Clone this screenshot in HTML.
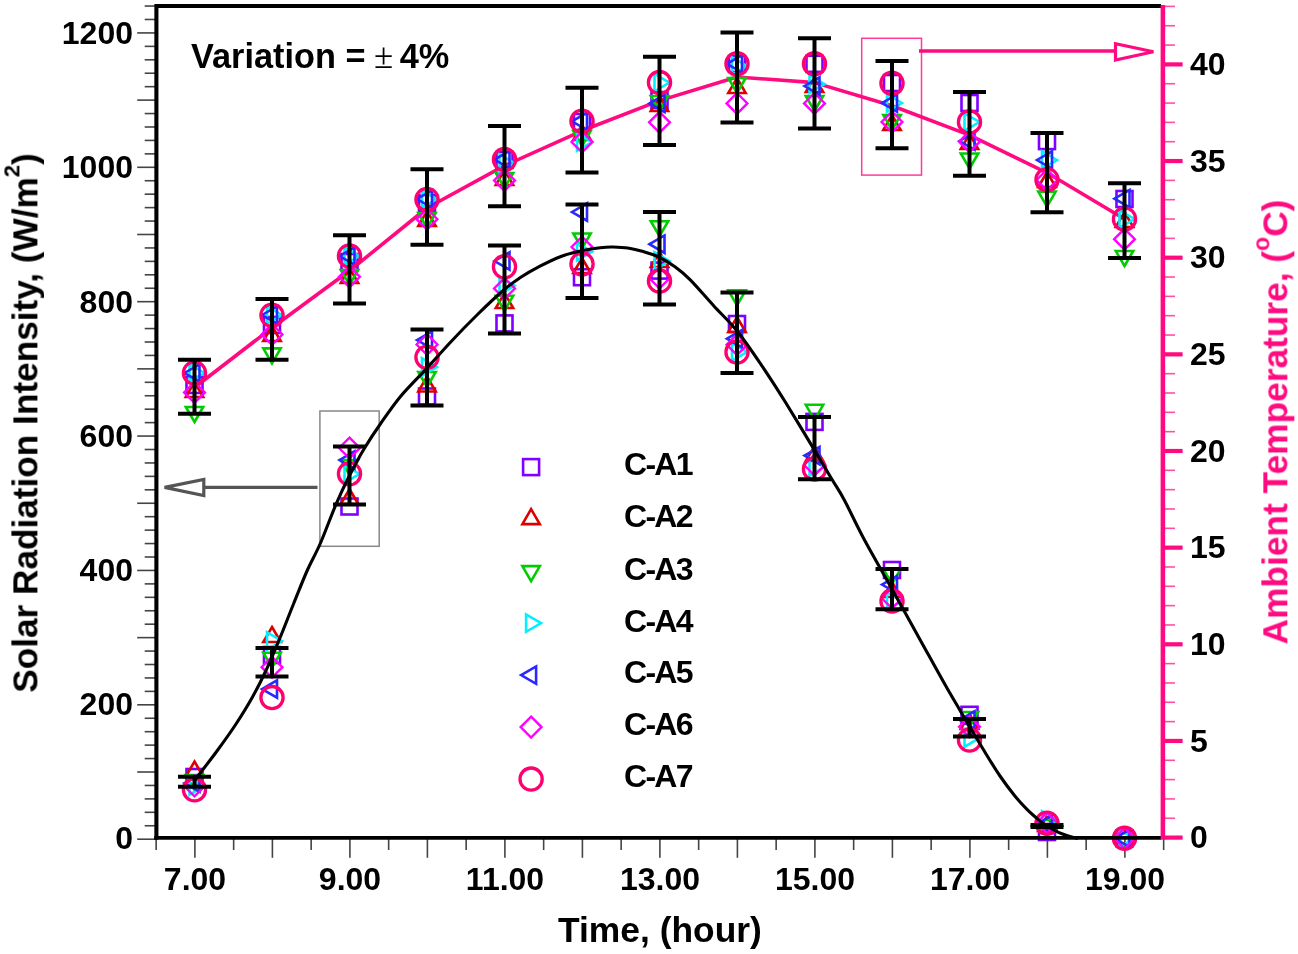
<!DOCTYPE html><html><head><meta charset="utf-8"><title>chart</title><style>
html,body{margin:0;padding:0;background:#fff;}
body{width:1298px;height:954px;position:relative;overflow:hidden;font-family:"Liberation Sans",sans-serif;font-weight:bold;color:#000;}
.t{position:absolute;white-space:nowrap;line-height:1;will-change:transform;}
.yl{font-size:32px;text-align:right;width:120px;left:13px;}
.yr{font-size:32px;left:1189.5px;}
.xl{font-size:32px;width:120px;text-align:center;top:862.5px;}
.lg{font-size:32px;left:623.5px;letter-spacing:-1.7px;}
</style></head><body>
<svg width="1298" height="954" viewBox="0 0 1298 954" style="position:absolute;left:0;top:0">
<line x1="137.2" x2="155" y1="839.20" y2="839.20" stroke="#444" stroke-width="1.6"/>
<line x1="144.7" x2="155" y1="825.76" y2="825.76" stroke="#444" stroke-width="1.6"/>
<line x1="144.7" x2="155" y1="812.32" y2="812.32" stroke="#444" stroke-width="1.6"/>
<line x1="144.7" x2="155" y1="798.89" y2="798.89" stroke="#444" stroke-width="1.6"/>
<line x1="144.7" x2="155" y1="785.45" y2="785.45" stroke="#444" stroke-width="1.6"/>
<line x1="137.2" x2="155" y1="772.01" y2="772.01" stroke="#444" stroke-width="1.6"/>
<line x1="144.7" x2="155" y1="758.57" y2="758.57" stroke="#444" stroke-width="1.6"/>
<line x1="144.7" x2="155" y1="745.13" y2="745.13" stroke="#444" stroke-width="1.6"/>
<line x1="144.7" x2="155" y1="731.70" y2="731.70" stroke="#444" stroke-width="1.6"/>
<line x1="144.7" x2="155" y1="718.26" y2="718.26" stroke="#444" stroke-width="1.6"/>
<line x1="137.2" x2="155" y1="704.82" y2="704.82" stroke="#444" stroke-width="1.6"/>
<line x1="144.7" x2="155" y1="691.38" y2="691.38" stroke="#444" stroke-width="1.6"/>
<line x1="144.7" x2="155" y1="677.94" y2="677.94" stroke="#444" stroke-width="1.6"/>
<line x1="144.7" x2="155" y1="664.51" y2="664.51" stroke="#444" stroke-width="1.6"/>
<line x1="144.7" x2="155" y1="651.07" y2="651.07" stroke="#444" stroke-width="1.6"/>
<line x1="137.2" x2="155" y1="637.63" y2="637.63" stroke="#444" stroke-width="1.6"/>
<line x1="144.7" x2="155" y1="624.19" y2="624.19" stroke="#444" stroke-width="1.6"/>
<line x1="144.7" x2="155" y1="610.75" y2="610.75" stroke="#444" stroke-width="1.6"/>
<line x1="144.7" x2="155" y1="597.32" y2="597.32" stroke="#444" stroke-width="1.6"/>
<line x1="144.7" x2="155" y1="583.88" y2="583.88" stroke="#444" stroke-width="1.6"/>
<line x1="137.2" x2="155" y1="570.44" y2="570.44" stroke="#444" stroke-width="1.6"/>
<line x1="144.7" x2="155" y1="557.00" y2="557.00" stroke="#444" stroke-width="1.6"/>
<line x1="144.7" x2="155" y1="543.56" y2="543.56" stroke="#444" stroke-width="1.6"/>
<line x1="144.7" x2="155" y1="530.13" y2="530.13" stroke="#444" stroke-width="1.6"/>
<line x1="144.7" x2="155" y1="516.69" y2="516.69" stroke="#444" stroke-width="1.6"/>
<line x1="137.2" x2="155" y1="503.25" y2="503.25" stroke="#444" stroke-width="1.6"/>
<line x1="144.7" x2="155" y1="489.81" y2="489.81" stroke="#444" stroke-width="1.6"/>
<line x1="144.7" x2="155" y1="476.37" y2="476.37" stroke="#444" stroke-width="1.6"/>
<line x1="144.7" x2="155" y1="462.94" y2="462.94" stroke="#444" stroke-width="1.6"/>
<line x1="144.7" x2="155" y1="449.50" y2="449.50" stroke="#444" stroke-width="1.6"/>
<line x1="137.2" x2="155" y1="436.06" y2="436.06" stroke="#444" stroke-width="1.6"/>
<line x1="144.7" x2="155" y1="422.62" y2="422.62" stroke="#444" stroke-width="1.6"/>
<line x1="144.7" x2="155" y1="409.18" y2="409.18" stroke="#444" stroke-width="1.6"/>
<line x1="144.7" x2="155" y1="395.75" y2="395.75" stroke="#444" stroke-width="1.6"/>
<line x1="144.7" x2="155" y1="382.31" y2="382.31" stroke="#444" stroke-width="1.6"/>
<line x1="137.2" x2="155" y1="368.87" y2="368.87" stroke="#444" stroke-width="1.6"/>
<line x1="144.7" x2="155" y1="355.43" y2="355.43" stroke="#444" stroke-width="1.6"/>
<line x1="144.7" x2="155" y1="341.99" y2="341.99" stroke="#444" stroke-width="1.6"/>
<line x1="144.7" x2="155" y1="328.56" y2="328.56" stroke="#444" stroke-width="1.6"/>
<line x1="144.7" x2="155" y1="315.12" y2="315.12" stroke="#444" stroke-width="1.6"/>
<line x1="137.2" x2="155" y1="301.68" y2="301.68" stroke="#444" stroke-width="1.6"/>
<line x1="144.7" x2="155" y1="288.24" y2="288.24" stroke="#444" stroke-width="1.6"/>
<line x1="144.7" x2="155" y1="274.80" y2="274.80" stroke="#444" stroke-width="1.6"/>
<line x1="144.7" x2="155" y1="261.37" y2="261.37" stroke="#444" stroke-width="1.6"/>
<line x1="144.7" x2="155" y1="247.93" y2="247.93" stroke="#444" stroke-width="1.6"/>
<line x1="137.2" x2="155" y1="234.49" y2="234.49" stroke="#444" stroke-width="1.6"/>
<line x1="144.7" x2="155" y1="221.05" y2="221.05" stroke="#444" stroke-width="1.6"/>
<line x1="144.7" x2="155" y1="207.61" y2="207.61" stroke="#444" stroke-width="1.6"/>
<line x1="144.7" x2="155" y1="194.18" y2="194.18" stroke="#444" stroke-width="1.6"/>
<line x1="144.7" x2="155" y1="180.74" y2="180.74" stroke="#444" stroke-width="1.6"/>
<line x1="137.2" x2="155" y1="167.30" y2="167.30" stroke="#444" stroke-width="1.6"/>
<line x1="144.7" x2="155" y1="153.86" y2="153.86" stroke="#444" stroke-width="1.6"/>
<line x1="144.7" x2="155" y1="140.42" y2="140.42" stroke="#444" stroke-width="1.6"/>
<line x1="144.7" x2="155" y1="126.99" y2="126.99" stroke="#444" stroke-width="1.6"/>
<line x1="144.7" x2="155" y1="113.55" y2="113.55" stroke="#444" stroke-width="1.6"/>
<line x1="137.2" x2="155" y1="100.11" y2="100.11" stroke="#444" stroke-width="1.6"/>
<line x1="144.7" x2="155" y1="86.67" y2="86.67" stroke="#444" stroke-width="1.6"/>
<line x1="144.7" x2="155" y1="73.23" y2="73.23" stroke="#444" stroke-width="1.6"/>
<line x1="144.7" x2="155" y1="59.80" y2="59.80" stroke="#444" stroke-width="1.6"/>
<line x1="144.7" x2="155" y1="46.36" y2="46.36" stroke="#444" stroke-width="1.6"/>
<line x1="137.2" x2="155" y1="32.92" y2="32.92" stroke="#444" stroke-width="1.6"/>
<line x1="144.7" x2="155" y1="19.48" y2="19.48" stroke="#444" stroke-width="1.6"/>
<line x1="144.7" x2="155" y1="6.04" y2="6.04" stroke="#444" stroke-width="1.6"/>
<line x1="156.15" x2="156.15" y1="838" y2="850" stroke="#444" stroke-width="1.6"/>
<line x1="194.90" x2="194.90" y1="838" y2="857.8" stroke="#444" stroke-width="1.6"/>
<line x1="233.65" x2="233.65" y1="838" y2="850" stroke="#444" stroke-width="1.6"/>
<line x1="272.40" x2="272.40" y1="838" y2="857.8" stroke="#444" stroke-width="1.6"/>
<line x1="311.15" x2="311.15" y1="838" y2="850" stroke="#444" stroke-width="1.6"/>
<line x1="349.90" x2="349.90" y1="838" y2="857.8" stroke="#444" stroke-width="1.6"/>
<line x1="388.65" x2="388.65" y1="838" y2="850" stroke="#444" stroke-width="1.6"/>
<line x1="427.40" x2="427.40" y1="838" y2="857.8" stroke="#444" stroke-width="1.6"/>
<line x1="466.15" x2="466.15" y1="838" y2="850" stroke="#444" stroke-width="1.6"/>
<line x1="504.90" x2="504.90" y1="838" y2="857.8" stroke="#444" stroke-width="1.6"/>
<line x1="543.65" x2="543.65" y1="838" y2="850" stroke="#444" stroke-width="1.6"/>
<line x1="582.40" x2="582.40" y1="838" y2="857.8" stroke="#444" stroke-width="1.6"/>
<line x1="621.15" x2="621.15" y1="838" y2="850" stroke="#444" stroke-width="1.6"/>
<line x1="659.90" x2="659.90" y1="838" y2="857.8" stroke="#444" stroke-width="1.6"/>
<line x1="698.65" x2="698.65" y1="838" y2="850" stroke="#444" stroke-width="1.6"/>
<line x1="737.40" x2="737.40" y1="838" y2="857.8" stroke="#444" stroke-width="1.6"/>
<line x1="776.15" x2="776.15" y1="838" y2="850" stroke="#444" stroke-width="1.6"/>
<line x1="814.90" x2="814.90" y1="838" y2="857.8" stroke="#444" stroke-width="1.6"/>
<line x1="853.65" x2="853.65" y1="838" y2="850" stroke="#444" stroke-width="1.6"/>
<line x1="892.40" x2="892.40" y1="838" y2="857.8" stroke="#444" stroke-width="1.6"/>
<line x1="931.15" x2="931.15" y1="838" y2="850" stroke="#444" stroke-width="1.6"/>
<line x1="969.90" x2="969.90" y1="838" y2="857.8" stroke="#444" stroke-width="1.6"/>
<line x1="1008.65" x2="1008.65" y1="838" y2="850" stroke="#444" stroke-width="1.6"/>
<line x1="1047.40" x2="1047.40" y1="838" y2="857.8" stroke="#444" stroke-width="1.6"/>
<line x1="1086.15" x2="1086.15" y1="838" y2="850" stroke="#444" stroke-width="1.6"/>
<line x1="1124.90" x2="1124.90" y1="838" y2="857.8" stroke="#444" stroke-width="1.6"/>
<line x1="1163.65" x2="1163.65" y1="838" y2="850" stroke="#444" stroke-width="1.6"/>
<line x1="1163" x2="1182.6" y1="837.60" y2="837.60" stroke="#ff0a80" stroke-width="4.2"/>
<line x1="1163" x2="1175" y1="818.27" y2="818.27" stroke="#ff0a80" stroke-width="1.6" stroke-opacity="0.72"/>
<line x1="1163" x2="1175" y1="798.94" y2="798.94" stroke="#ff0a80" stroke-width="1.6" stroke-opacity="0.72"/>
<line x1="1163" x2="1175" y1="779.61" y2="779.61" stroke="#ff0a80" stroke-width="1.6" stroke-opacity="0.72"/>
<line x1="1163" x2="1175" y1="760.28" y2="760.28" stroke="#ff0a80" stroke-width="1.6" stroke-opacity="0.72"/>
<line x1="1163" x2="1182.6" y1="740.95" y2="740.95" stroke="#ff0a80" stroke-width="4.2"/>
<line x1="1163" x2="1175" y1="721.62" y2="721.62" stroke="#ff0a80" stroke-width="1.6" stroke-opacity="0.72"/>
<line x1="1163" x2="1175" y1="702.29" y2="702.29" stroke="#ff0a80" stroke-width="1.6" stroke-opacity="0.72"/>
<line x1="1163" x2="1175" y1="682.96" y2="682.96" stroke="#ff0a80" stroke-width="1.6" stroke-opacity="0.72"/>
<line x1="1163" x2="1175" y1="663.63" y2="663.63" stroke="#ff0a80" stroke-width="1.6" stroke-opacity="0.72"/>
<line x1="1163" x2="1182.6" y1="644.30" y2="644.30" stroke="#ff0a80" stroke-width="4.2"/>
<line x1="1163" x2="1175" y1="624.97" y2="624.97" stroke="#ff0a80" stroke-width="1.6" stroke-opacity="0.72"/>
<line x1="1163" x2="1175" y1="605.64" y2="605.64" stroke="#ff0a80" stroke-width="1.6" stroke-opacity="0.72"/>
<line x1="1163" x2="1175" y1="586.31" y2="586.31" stroke="#ff0a80" stroke-width="1.6" stroke-opacity="0.72"/>
<line x1="1163" x2="1175" y1="566.98" y2="566.98" stroke="#ff0a80" stroke-width="1.6" stroke-opacity="0.72"/>
<line x1="1163" x2="1182.6" y1="547.65" y2="547.65" stroke="#ff0a80" stroke-width="4.2"/>
<line x1="1163" x2="1175" y1="528.32" y2="528.32" stroke="#ff0a80" stroke-width="1.6" stroke-opacity="0.72"/>
<line x1="1163" x2="1175" y1="508.99" y2="508.99" stroke="#ff0a80" stroke-width="1.6" stroke-opacity="0.72"/>
<line x1="1163" x2="1175" y1="489.66" y2="489.66" stroke="#ff0a80" stroke-width="1.6" stroke-opacity="0.72"/>
<line x1="1163" x2="1175" y1="470.33" y2="470.33" stroke="#ff0a80" stroke-width="1.6" stroke-opacity="0.72"/>
<line x1="1163" x2="1182.6" y1="451.00" y2="451.00" stroke="#ff0a80" stroke-width="4.2"/>
<line x1="1163" x2="1175" y1="431.67" y2="431.67" stroke="#ff0a80" stroke-width="1.6" stroke-opacity="0.72"/>
<line x1="1163" x2="1175" y1="412.34" y2="412.34" stroke="#ff0a80" stroke-width="1.6" stroke-opacity="0.72"/>
<line x1="1163" x2="1175" y1="393.01" y2="393.01" stroke="#ff0a80" stroke-width="1.6" stroke-opacity="0.72"/>
<line x1="1163" x2="1175" y1="373.68" y2="373.68" stroke="#ff0a80" stroke-width="1.6" stroke-opacity="0.72"/>
<line x1="1163" x2="1182.6" y1="354.35" y2="354.35" stroke="#ff0a80" stroke-width="4.2"/>
<line x1="1163" x2="1175" y1="335.02" y2="335.02" stroke="#ff0a80" stroke-width="1.6" stroke-opacity="0.72"/>
<line x1="1163" x2="1175" y1="315.69" y2="315.69" stroke="#ff0a80" stroke-width="1.6" stroke-opacity="0.72"/>
<line x1="1163" x2="1175" y1="296.36" y2="296.36" stroke="#ff0a80" stroke-width="1.6" stroke-opacity="0.72"/>
<line x1="1163" x2="1175" y1="277.03" y2="277.03" stroke="#ff0a80" stroke-width="1.6" stroke-opacity="0.72"/>
<line x1="1163" x2="1182.6" y1="257.70" y2="257.70" stroke="#ff0a80" stroke-width="4.2"/>
<line x1="1163" x2="1175" y1="238.37" y2="238.37" stroke="#ff0a80" stroke-width="1.6" stroke-opacity="0.72"/>
<line x1="1163" x2="1175" y1="219.04" y2="219.04" stroke="#ff0a80" stroke-width="1.6" stroke-opacity="0.72"/>
<line x1="1163" x2="1175" y1="199.71" y2="199.71" stroke="#ff0a80" stroke-width="1.6" stroke-opacity="0.72"/>
<line x1="1163" x2="1175" y1="180.38" y2="180.38" stroke="#ff0a80" stroke-width="1.6" stroke-opacity="0.72"/>
<line x1="1163" x2="1182.6" y1="161.05" y2="161.05" stroke="#ff0a80" stroke-width="4.2"/>
<line x1="1163" x2="1175" y1="141.72" y2="141.72" stroke="#ff0a80" stroke-width="1.6" stroke-opacity="0.72"/>
<line x1="1163" x2="1175" y1="122.39" y2="122.39" stroke="#ff0a80" stroke-width="1.6" stroke-opacity="0.72"/>
<line x1="1163" x2="1175" y1="103.06" y2="103.06" stroke="#ff0a80" stroke-width="1.6" stroke-opacity="0.72"/>
<line x1="1163" x2="1175" y1="83.73" y2="83.73" stroke="#ff0a80" stroke-width="1.6" stroke-opacity="0.72"/>
<line x1="1163" x2="1182.6" y1="64.40" y2="64.40" stroke="#ff0a80" stroke-width="4.2"/>
<line x1="1163" x2="1175" y1="45.07" y2="45.07" stroke="#ff0a80" stroke-width="1.6" stroke-opacity="0.72"/>
<line x1="1163" x2="1175" y1="25.74" y2="25.74" stroke="#ff0a80" stroke-width="1.6" stroke-opacity="0.72"/>
<line x1="1163" x2="1175" y1="6.41" y2="6.41" stroke="#ff0a80" stroke-width="1.6" stroke-opacity="0.72"/>
<rect x="319.9" y="411" width="59.3" height="135.3" fill="none" stroke="#888" stroke-width="1.5"/>
<rect x="861.7" y="38.3" width="59.8" height="136.8" fill="none" stroke="#ff0a80" stroke-opacity="0.8" stroke-width="1.5"/>
<line x1="204" x2="317.5" y1="487.4" y2="487.4" stroke="#555" stroke-width="3.4"/>
<polygon points="164.6,487.4 203.8,479.4 203.8,495.6" fill="#fff" stroke="#555" stroke-width="3.2" stroke-linejoin="miter"/>
<line x1="919" x2="1115" y1="51" y2="51" stroke="#ff0a80" stroke-width="3.4"/>
<polygon points="1153.4,51.8 1115.5,43.8 1115.5,60" fill="#fff" stroke="#ff0a80" stroke-width="3.2" stroke-linejoin="miter"/>
<polyline points="194.5,387.5 272.0,327.8 349.5,270.8 427.0,208.0 504.5,165.7 582.0,130.8 659.5,100.6 737.0,77.0 814.5,82.6 892.0,105.8 969.5,135.1 1047.0,172.8 1124.5,219.0" fill="none" stroke="#ff0a80" stroke-width="3.6" stroke-linejoin="round"/>
<rect x="186.5" y="377.0" width="16.0" height="16.0" fill="none" stroke="#8000ff" stroke-width="2.6"/>
<polygon points="194.5,382.0 203.2,397.0 185.8,397.0" fill="none" stroke="#dd0000" stroke-width="2.6" stroke-linejoin="miter"/>
<polygon points="194.5,422.0 203.2,407.0 185.8,407.0" fill="none" stroke="#00cc00" stroke-width="2.6" stroke-linejoin="miter"/>
<polygon points="204.5,373.0 189.5,364.3 189.5,381.7" fill="none" stroke="#00f0ff" stroke-width="2.6" stroke-linejoin="miter"/>
<polygon points="184.5,373.0 199.5,364.3 199.5,381.7" fill="none" stroke="#2828ff" stroke-width="2.6" stroke-linejoin="miter"/>
<polygon points="194.5,382.0 204.9,392.4 194.5,402.8 184.1,392.4" fill="none" stroke="#ff00ff" stroke-width="2.4" stroke-linejoin="miter"/>
<circle cx="194.5" cy="373.0" r="11.1" fill="none" stroke="#ff0070" stroke-width="3.3"/>
<rect x="264.0" y="317.0" width="16.0" height="16.0" fill="none" stroke="#8000ff" stroke-width="2.6"/>
<polygon points="272.0,326.0 280.7,341.0 263.3,341.0" fill="none" stroke="#dd0000" stroke-width="2.6" stroke-linejoin="miter"/>
<polygon points="272.0,363.4 280.7,348.4 263.3,348.4" fill="none" stroke="#00cc00" stroke-width="2.6" stroke-linejoin="miter"/>
<polygon points="282.0,315.0 267.0,306.3 267.0,323.7" fill="none" stroke="#00f0ff" stroke-width="2.6" stroke-linejoin="miter"/>
<polygon points="262.0,315.0 277.0,306.3 277.0,323.7" fill="none" stroke="#2828ff" stroke-width="2.6" stroke-linejoin="miter"/>
<polygon points="272.0,324.1 282.4,334.5 272.0,344.9 261.6,334.5" fill="none" stroke="#ff00ff" stroke-width="2.4" stroke-linejoin="miter"/>
<circle cx="272.0" cy="315.2" r="11.1" fill="none" stroke="#ff0070" stroke-width="3.3"/>
<rect x="341.5" y="254.0" width="16.0" height="16.0" fill="none" stroke="#8000ff" stroke-width="2.6"/>
<polygon points="349.5,268.0 358.2,283.0 340.8,283.0" fill="none" stroke="#dd0000" stroke-width="2.6" stroke-linejoin="miter"/>
<polygon points="349.5,285.0 358.2,270.0 340.8,270.0" fill="none" stroke="#00cc00" stroke-width="2.6" stroke-linejoin="miter"/>
<polygon points="359.5,256.0 344.5,247.3 344.5,264.7" fill="none" stroke="#00f0ff" stroke-width="2.6" stroke-linejoin="miter"/>
<polygon points="339.5,256.0 354.5,247.3 354.5,264.7" fill="none" stroke="#2828ff" stroke-width="2.6" stroke-linejoin="miter"/>
<polygon points="349.5,266.4 359.9,276.8 349.5,287.2 339.1,276.8" fill="none" stroke="#ff00ff" stroke-width="2.4" stroke-linejoin="miter"/>
<circle cx="349.5" cy="256.0" r="11.1" fill="none" stroke="#ff0070" stroke-width="3.3"/>
<rect x="419.0" y="195.0" width="16.0" height="16.0" fill="none" stroke="#8000ff" stroke-width="2.6"/>
<polygon points="427.0,211.0 435.7,226.0 418.3,226.0" fill="none" stroke="#dd0000" stroke-width="2.6" stroke-linejoin="miter"/>
<polygon points="427.0,228.0 435.7,213.0 418.3,213.0" fill="none" stroke="#00cc00" stroke-width="2.6" stroke-linejoin="miter"/>
<polygon points="437.0,199.0 422.0,190.3 422.0,207.7" fill="none" stroke="#00f0ff" stroke-width="2.6" stroke-linejoin="miter"/>
<polygon points="417.0,199.0 432.0,190.3 432.0,207.7" fill="none" stroke="#2828ff" stroke-width="2.6" stroke-linejoin="miter"/>
<polygon points="427.0,208.8 437.4,219.2 427.0,229.6 416.6,219.2" fill="none" stroke="#ff00ff" stroke-width="2.4" stroke-linejoin="miter"/>
<circle cx="427.0" cy="199.4" r="11.1" fill="none" stroke="#ff0070" stroke-width="3.3"/>
<rect x="496.5" y="152.0" width="16.0" height="16.0" fill="none" stroke="#8000ff" stroke-width="2.6"/>
<polygon points="504.5,170.0 513.2,185.0 495.8,185.0" fill="none" stroke="#dd0000" stroke-width="2.6" stroke-linejoin="miter"/>
<polygon points="504.5,188.0 513.2,173.0 495.8,173.0" fill="none" stroke="#00cc00" stroke-width="2.6" stroke-linejoin="miter"/>
<polygon points="514.5,163.0 499.5,154.3 499.5,171.7" fill="none" stroke="#00f0ff" stroke-width="2.6" stroke-linejoin="miter"/>
<polygon points="494.5,159.6 509.5,150.9 509.5,168.3" fill="none" stroke="#2828ff" stroke-width="2.6" stroke-linejoin="miter"/>
<polygon points="504.5,170.0 514.9,180.4 504.5,190.8 494.1,180.4" fill="none" stroke="#ff00ff" stroke-width="2.4" stroke-linejoin="miter"/>
<circle cx="504.5" cy="159.6" r="11.1" fill="none" stroke="#ff0070" stroke-width="3.3"/>
<rect x="574.0" y="114.0" width="16.0" height="16.0" fill="none" stroke="#8000ff" stroke-width="2.6"/>
<polygon points="582.0,125.0 590.7,140.0 573.3,140.0" fill="none" stroke="#dd0000" stroke-width="2.6" stroke-linejoin="miter"/>
<polygon points="582.0,146.0 590.7,131.0 573.3,131.0" fill="none" stroke="#00cc00" stroke-width="2.6" stroke-linejoin="miter"/>
<polygon points="592.0,142.0 577.0,133.3 577.0,150.7" fill="none" stroke="#00f0ff" stroke-width="2.6" stroke-linejoin="miter"/>
<polygon points="572.0,121.3 587.0,112.6 587.0,130.0" fill="none" stroke="#2828ff" stroke-width="2.6" stroke-linejoin="miter"/>
<polygon points="582.0,131.6 592.4,142.0 582.0,152.4 571.6,142.0" fill="none" stroke="#ff00ff" stroke-width="2.4" stroke-linejoin="miter"/>
<circle cx="582.0" cy="121.3" r="11.1" fill="none" stroke="#ff0070" stroke-width="3.3"/>
<rect x="651.5" y="92.0" width="16.0" height="16.0" fill="none" stroke="#8000ff" stroke-width="2.6"/>
<polygon points="659.5,96.0 668.2,111.0 650.8,111.0" fill="none" stroke="#dd0000" stroke-width="2.6" stroke-linejoin="miter"/>
<polygon points="659.5,111.0 668.2,96.0 650.8,96.0" fill="none" stroke="#00cc00" stroke-width="2.6" stroke-linejoin="miter"/>
<polygon points="669.5,82.6 654.5,73.9 654.5,91.3" fill="none" stroke="#00f0ff" stroke-width="2.6" stroke-linejoin="miter"/>
<polygon points="649.5,103.4 664.5,94.7 664.5,112.1" fill="none" stroke="#2828ff" stroke-width="2.6" stroke-linejoin="miter"/>
<polygon points="659.5,111.9 669.9,122.3 659.5,132.7 649.1,122.3" fill="none" stroke="#ff00ff" stroke-width="2.4" stroke-linejoin="miter"/>
<circle cx="659.5" cy="82.6" r="11.1" fill="none" stroke="#ff0070" stroke-width="3.3"/>
<rect x="729.0" y="56.0" width="16.0" height="16.0" fill="none" stroke="#8000ff" stroke-width="2.6"/>
<polygon points="737.0,78.0 745.7,93.0 728.3,93.0" fill="none" stroke="#dd0000" stroke-width="2.6" stroke-linejoin="miter"/>
<polygon points="737.0,93.0 745.7,78.0 728.3,78.0" fill="none" stroke="#00cc00" stroke-width="2.6" stroke-linejoin="miter"/>
<polygon points="747.0,66.0 732.0,57.3 732.0,74.7" fill="none" stroke="#00f0ff" stroke-width="2.6" stroke-linejoin="miter"/>
<polygon points="727.0,63.8 742.0,55.1 742.0,72.5" fill="none" stroke="#2828ff" stroke-width="2.6" stroke-linejoin="miter"/>
<polygon points="737.0,93.0 747.4,103.4 737.0,113.8 726.6,103.4" fill="none" stroke="#ff00ff" stroke-width="2.4" stroke-linejoin="miter"/>
<circle cx="737.0" cy="63.8" r="11.1" fill="none" stroke="#ff0070" stroke-width="3.3"/>
<rect x="806.5" y="55.8" width="16.0" height="16.0" fill="none" stroke="#8000ff" stroke-width="2.6"/>
<polygon points="814.5,77.0 823.2,92.0 805.8,92.0" fill="none" stroke="#dd0000" stroke-width="2.6" stroke-linejoin="miter"/>
<polygon points="814.5,111.0 823.2,96.0 805.8,96.0" fill="none" stroke="#00cc00" stroke-width="2.6" stroke-linejoin="miter"/>
<polygon points="824.5,84.0 809.5,75.3 809.5,92.7" fill="none" stroke="#00f0ff" stroke-width="2.6" stroke-linejoin="miter"/>
<polygon points="804.5,86.0 819.5,77.3 819.5,94.7" fill="none" stroke="#2828ff" stroke-width="2.6" stroke-linejoin="miter"/>
<polygon points="814.5,93.0 824.9,103.4 814.5,113.8 804.1,103.4" fill="none" stroke="#ff00ff" stroke-width="2.4" stroke-linejoin="miter"/>
<circle cx="814.5" cy="63.8" r="11.1" fill="none" stroke="#ff0070" stroke-width="3.3"/>
<rect x="884.0" y="75.0" width="16.0" height="16.0" fill="none" stroke="#8000ff" stroke-width="2.6"/>
<polygon points="892.0,115.0 900.7,130.0 883.3,130.0" fill="none" stroke="#dd0000" stroke-width="2.6" stroke-linejoin="miter"/>
<polygon points="892.0,130.0 900.7,115.0 883.3,115.0" fill="none" stroke="#00cc00" stroke-width="2.6" stroke-linejoin="miter"/>
<polygon points="902.0,103.0 887.0,94.3 887.0,111.7" fill="none" stroke="#00f0ff" stroke-width="2.6" stroke-linejoin="miter"/>
<polygon points="882.0,103.0 897.0,94.3 897.0,111.7" fill="none" stroke="#2828ff" stroke-width="2.6" stroke-linejoin="miter"/>
<polygon points="892.0,111.5 902.4,121.9 892.0,132.3 881.6,121.9" fill="none" stroke="#ff00ff" stroke-width="2.4" stroke-linejoin="miter"/>
<circle cx="892.0" cy="83.2" r="11.1" fill="none" stroke="#ff0070" stroke-width="3.3"/>
<rect x="961.5" y="95.0" width="16.0" height="16.0" fill="none" stroke="#8000ff" stroke-width="2.6"/>
<polygon points="969.5,134.0 978.2,149.0 960.8,149.0" fill="none" stroke="#dd0000" stroke-width="2.6" stroke-linejoin="miter"/>
<polygon points="969.5,168.5 978.2,153.5 960.8,153.5" fill="none" stroke="#00cc00" stroke-width="2.6" stroke-linejoin="miter"/>
<polygon points="979.5,122.0 964.5,113.3 964.5,130.7" fill="none" stroke="#00f0ff" stroke-width="2.6" stroke-linejoin="miter"/>
<polygon points="959.5,141.0 974.5,132.3 974.5,149.7" fill="none" stroke="#2828ff" stroke-width="2.6" stroke-linejoin="miter"/>
<polygon points="969.5,131.3 979.9,141.7 969.5,152.1 959.1,141.7" fill="none" stroke="#ff00ff" stroke-width="2.4" stroke-linejoin="miter"/>
<circle cx="969.5" cy="121.9" r="11.1" fill="none" stroke="#ff0070" stroke-width="3.3"/>
<rect x="1039.0" y="133.1" width="16.0" height="16.0" fill="none" stroke="#8000ff" stroke-width="2.6"/>
<polygon points="1047.0,172.0 1055.7,187.0 1038.3,187.0" fill="none" stroke="#dd0000" stroke-width="2.6" stroke-linejoin="miter"/>
<polygon points="1047.0,206.6 1055.7,191.6 1038.3,191.6" fill="none" stroke="#00cc00" stroke-width="2.6" stroke-linejoin="miter"/>
<polygon points="1057.0,160.0 1042.0,151.3 1042.0,168.7" fill="none" stroke="#00f0ff" stroke-width="2.6" stroke-linejoin="miter"/>
<polygon points="1037.0,160.0 1052.0,151.3 1052.0,168.7" fill="none" stroke="#2828ff" stroke-width="2.6" stroke-linejoin="miter"/>
<polygon points="1047.0,169.6 1057.4,180.0 1047.0,190.4 1036.6,180.0" fill="none" stroke="#ff00ff" stroke-width="2.4" stroke-linejoin="miter"/>
<circle cx="1047.0" cy="179.8" r="11.1" fill="none" stroke="#ff0070" stroke-width="3.3"/>
<rect x="1116.5" y="191.0" width="16.0" height="16.0" fill="none" stroke="#8000ff" stroke-width="2.6"/>
<polygon points="1124.5,212.0 1133.2,227.0 1115.8,227.0" fill="none" stroke="#dd0000" stroke-width="2.6" stroke-linejoin="miter"/>
<polygon points="1124.5,266.0 1133.2,251.0 1115.8,251.0" fill="none" stroke="#00cc00" stroke-width="2.6" stroke-linejoin="miter"/>
<polygon points="1134.5,219.0 1119.5,210.3 1119.5,227.7" fill="none" stroke="#00f0ff" stroke-width="2.6" stroke-linejoin="miter"/>
<polygon points="1114.5,198.7 1129.5,190.0 1129.5,207.4" fill="none" stroke="#2828ff" stroke-width="2.6" stroke-linejoin="miter"/>
<polygon points="1124.5,228.8 1134.9,239.2 1124.5,249.6 1114.1,239.2" fill="none" stroke="#ff00ff" stroke-width="2.4" stroke-linejoin="miter"/>
<circle cx="1124.5" cy="219.0" r="11.1" fill="none" stroke="#ff0070" stroke-width="3.3"/>
<rect x="186.5" y="769.0" width="16.0" height="16.0" fill="none" stroke="#8000ff" stroke-width="2.6"/>
<polygon points="194.5,761.5 203.2,776.5 185.8,776.5" fill="none" stroke="#dd0000" stroke-width="2.6" stroke-linejoin="miter"/>
<polygon points="194.5,790.0 203.2,775.0 185.8,775.0" fill="none" stroke="#00cc00" stroke-width="2.6" stroke-linejoin="miter"/>
<polygon points="204.5,786.0 189.5,777.3 189.5,794.7" fill="none" stroke="#00f0ff" stroke-width="2.6" stroke-linejoin="miter"/>
<polygon points="184.5,783.0 199.5,774.3 199.5,791.7" fill="none" stroke="#2828ff" stroke-width="2.6" stroke-linejoin="miter"/>
<polygon points="194.5,775.6 204.9,786.0 194.5,796.4 184.1,786.0" fill="none" stroke="#ff00ff" stroke-width="2.4" stroke-linejoin="miter"/>
<circle cx="194.5" cy="789.8" r="11.1" fill="none" stroke="#ff0070" stroke-width="3.3"/>
<rect x="264.0" y="647.0" width="16.0" height="16.0" fill="none" stroke="#8000ff" stroke-width="2.6"/>
<polygon points="272.0,627.0 280.7,642.0 263.3,642.0" fill="none" stroke="#dd0000" stroke-width="2.6" stroke-linejoin="miter"/>
<polygon points="272.0,667.7 280.7,652.7 263.3,652.7" fill="none" stroke="#00cc00" stroke-width="2.6" stroke-linejoin="miter"/>
<polygon points="282.0,641.0 267.0,632.3 267.0,649.7" fill="none" stroke="#00f0ff" stroke-width="2.6" stroke-linejoin="miter"/>
<polygon points="262.0,689.0 277.0,680.3 277.0,697.7" fill="none" stroke="#2828ff" stroke-width="2.6" stroke-linejoin="miter"/>
<polygon points="272.0,656.8 282.4,667.2 272.0,677.6 261.6,667.2" fill="none" stroke="#ff00ff" stroke-width="2.4" stroke-linejoin="miter"/>
<circle cx="272.0" cy="697.6" r="11.1" fill="none" stroke="#ff0070" stroke-width="3.3"/>
<rect x="341.5" y="498.5" width="16.0" height="16.0" fill="none" stroke="#8000ff" stroke-width="2.6"/>
<polygon points="349.5,489.0 358.2,504.0 340.8,504.0" fill="none" stroke="#dd0000" stroke-width="2.6" stroke-linejoin="miter"/>
<polygon points="349.5,475.0 358.2,460.0 340.8,460.0" fill="none" stroke="#00cc00" stroke-width="2.6" stroke-linejoin="miter"/>
<polygon points="359.5,474.0 344.5,465.3 344.5,482.7" fill="none" stroke="#00f0ff" stroke-width="2.6" stroke-linejoin="miter"/>
<polygon points="339.5,460.0 354.5,451.3 354.5,468.7" fill="none" stroke="#2828ff" stroke-width="2.6" stroke-linejoin="miter"/>
<polygon points="349.5,437.6 359.9,448.0 349.5,458.4 339.1,448.0" fill="none" stroke="#ff00ff" stroke-width="2.4" stroke-linejoin="miter"/>
<circle cx="349.5" cy="473.8" r="11.1" fill="none" stroke="#ff0070" stroke-width="3.3"/>
<rect x="419.0" y="388.5" width="16.0" height="16.0" fill="none" stroke="#8000ff" stroke-width="2.6"/>
<polygon points="427.0,376.5 435.7,391.5 418.3,391.5" fill="none" stroke="#dd0000" stroke-width="2.6" stroke-linejoin="miter"/>
<polygon points="427.0,387.0 435.7,372.0 418.3,372.0" fill="none" stroke="#00cc00" stroke-width="2.6" stroke-linejoin="miter"/>
<polygon points="437.0,367.0 422.0,358.3 422.0,375.7" fill="none" stroke="#00f0ff" stroke-width="2.6" stroke-linejoin="miter"/>
<polygon points="417.0,340.0 432.0,331.3 432.0,348.7" fill="none" stroke="#2828ff" stroke-width="2.6" stroke-linejoin="miter"/>
<polygon points="427.0,334.1 437.4,344.5 427.0,354.9 416.6,344.5" fill="none" stroke="#ff00ff" stroke-width="2.4" stroke-linejoin="miter"/>
<circle cx="427.0" cy="357.3" r="11.1" fill="none" stroke="#ff0070" stroke-width="3.3"/>
<rect x="496.5" y="315.4" width="16.0" height="16.0" fill="none" stroke="#8000ff" stroke-width="2.6"/>
<polygon points="504.5,293.0 513.2,308.0 495.8,308.0" fill="none" stroke="#dd0000" stroke-width="2.6" stroke-linejoin="miter"/>
<polygon points="504.5,310.8 513.2,295.8 495.8,295.8" fill="none" stroke="#00cc00" stroke-width="2.6" stroke-linejoin="miter"/>
<polygon points="514.5,285.7 499.5,277.0 499.5,294.4" fill="none" stroke="#00f0ff" stroke-width="2.6" stroke-linejoin="miter"/>
<polygon points="494.5,261.0 509.5,252.3 509.5,269.7" fill="none" stroke="#2828ff" stroke-width="2.6" stroke-linejoin="miter"/>
<polygon points="504.5,278.1 514.9,288.5 504.5,298.9 494.1,288.5" fill="none" stroke="#ff00ff" stroke-width="2.4" stroke-linejoin="miter"/>
<circle cx="504.5" cy="266.8" r="11.1" fill="none" stroke="#ff0070" stroke-width="3.3"/>
<rect x="574.0" y="269.2" width="16.0" height="16.0" fill="none" stroke="#8000ff" stroke-width="2.6"/>
<polygon points="582.0,258.0 590.7,273.0 573.3,273.0" fill="none" stroke="#dd0000" stroke-width="2.6" stroke-linejoin="miter"/>
<polygon points="582.0,248.5 590.7,233.5 573.3,233.5" fill="none" stroke="#00cc00" stroke-width="2.6" stroke-linejoin="miter"/>
<polygon points="592.0,251.7 577.0,243.0 577.0,260.4" fill="none" stroke="#00f0ff" stroke-width="2.6" stroke-linejoin="miter"/>
<polygon points="572.0,212.0 587.0,203.3 587.0,220.7" fill="none" stroke="#2828ff" stroke-width="2.6" stroke-linejoin="miter"/>
<polygon points="582.0,236.6 592.4,247.0 582.0,257.4 571.6,247.0" fill="none" stroke="#ff00ff" stroke-width="2.4" stroke-linejoin="miter"/>
<circle cx="582.0" cy="264.0" r="11.1" fill="none" stroke="#ff0070" stroke-width="3.3"/>
<rect x="651.5" y="262.6" width="16.0" height="16.0" fill="none" stroke="#8000ff" stroke-width="2.6"/>
<polygon points="659.5,252.0 668.2,267.0 650.8,267.0" fill="none" stroke="#dd0000" stroke-width="2.6" stroke-linejoin="miter"/>
<polygon points="659.5,236.2 668.2,221.2 650.8,221.2" fill="none" stroke="#00cc00" stroke-width="2.6" stroke-linejoin="miter"/>
<polygon points="669.5,261.0 654.5,252.3 654.5,269.7" fill="none" stroke="#00f0ff" stroke-width="2.6" stroke-linejoin="miter"/>
<polygon points="649.5,244.2 664.5,235.5 664.5,252.9" fill="none" stroke="#2828ff" stroke-width="2.6" stroke-linejoin="miter"/>
<polygon points="659.5,267.6 669.9,278.0 659.5,288.4 649.1,278.0" fill="none" stroke="#ff00ff" stroke-width="2.4" stroke-linejoin="miter"/>
<circle cx="659.5" cy="281.0" r="11.1" fill="none" stroke="#ff0070" stroke-width="3.3"/>
<rect x="729.0" y="316.0" width="16.0" height="16.0" fill="none" stroke="#8000ff" stroke-width="2.6"/>
<polygon points="737.0,317.0 745.7,332.0 728.3,332.0" fill="none" stroke="#dd0000" stroke-width="2.6" stroke-linejoin="miter"/>
<polygon points="737.0,305.3 745.7,290.3 728.3,290.3" fill="none" stroke="#00cc00" stroke-width="2.6" stroke-linejoin="miter"/>
<polygon points="747.0,352.0 732.0,343.3 732.0,360.7" fill="none" stroke="#00f0ff" stroke-width="2.6" stroke-linejoin="miter"/>
<polygon points="727.0,338.7 742.0,330.0 742.0,347.4" fill="none" stroke="#2828ff" stroke-width="2.6" stroke-linejoin="miter"/>
<polygon points="737.0,334.3 747.4,344.7 737.0,355.1 726.6,344.7" fill="none" stroke="#ff00ff" stroke-width="2.4" stroke-linejoin="miter"/>
<circle cx="737.0" cy="352.0" r="11.1" fill="none" stroke="#ff0070" stroke-width="3.3"/>
<rect x="806.5" y="413.9" width="16.0" height="16.0" fill="none" stroke="#8000ff" stroke-width="2.6"/>
<polygon points="814.5,446.0 823.2,461.0 805.8,461.0" fill="none" stroke="#dd0000" stroke-width="2.6" stroke-linejoin="miter"/>
<polygon points="814.5,419.8 823.2,404.8 805.8,404.8" fill="none" stroke="#00cc00" stroke-width="2.6" stroke-linejoin="miter"/>
<polygon points="824.5,467.0 809.5,458.3 809.5,475.7" fill="none" stroke="#00f0ff" stroke-width="2.6" stroke-linejoin="miter"/>
<polygon points="804.5,455.6 819.5,446.9 819.5,464.3" fill="none" stroke="#2828ff" stroke-width="2.6" stroke-linejoin="miter"/>
<polygon points="814.5,454.6 824.9,465.0 814.5,475.4 804.1,465.0" fill="none" stroke="#ff00ff" stroke-width="2.4" stroke-linejoin="miter"/>
<circle cx="814.5" cy="468.9" r="11.1" fill="none" stroke="#ff0070" stroke-width="3.3"/>
<rect x="884.0" y="562.0" width="16.0" height="16.0" fill="none" stroke="#8000ff" stroke-width="2.6"/>
<polygon points="892.0,582.0 900.7,597.0 883.3,597.0" fill="none" stroke="#dd0000" stroke-width="2.6" stroke-linejoin="miter"/>
<polygon points="892.0,583.8 900.7,568.8 883.3,568.8" fill="none" stroke="#00cc00" stroke-width="2.6" stroke-linejoin="miter"/>
<polygon points="902.0,601.0 887.0,592.3 887.0,609.7" fill="none" stroke="#00f0ff" stroke-width="2.6" stroke-linejoin="miter"/>
<polygon points="882.0,584.6 897.0,575.9 897.0,593.3" fill="none" stroke="#2828ff" stroke-width="2.6" stroke-linejoin="miter"/>
<polygon points="892.0,587.6 902.4,598.0 892.0,608.4 881.6,598.0" fill="none" stroke="#ff00ff" stroke-width="2.4" stroke-linejoin="miter"/>
<circle cx="892.0" cy="601.0" r="11.1" fill="none" stroke="#ff0070" stroke-width="3.3"/>
<rect x="961.5" y="706.8" width="16.0" height="16.0" fill="none" stroke="#8000ff" stroke-width="2.6"/>
<polygon points="969.5,714.0 978.2,729.0 960.8,729.0" fill="none" stroke="#dd0000" stroke-width="2.6" stroke-linejoin="miter"/>
<polygon points="969.5,727.0 978.2,712.0 960.8,712.0" fill="none" stroke="#00cc00" stroke-width="2.6" stroke-linejoin="miter"/>
<polygon points="979.5,738.0 964.5,729.3 964.5,746.7" fill="none" stroke="#00f0ff" stroke-width="2.6" stroke-linejoin="miter"/>
<polygon points="959.5,720.0 974.5,711.3 974.5,728.7" fill="none" stroke="#2828ff" stroke-width="2.6" stroke-linejoin="miter"/>
<polygon points="969.5,716.4 979.9,726.8 969.5,737.2 959.1,726.8" fill="none" stroke="#ff00ff" stroke-width="2.4" stroke-linejoin="miter"/>
<circle cx="969.5" cy="740.0" r="11.1" fill="none" stroke="#ff0070" stroke-width="3.3"/>
<rect x="1039.0" y="824.0" width="16.0" height="16.0" fill="none" stroke="#8000ff" stroke-width="2.6"/>
<polygon points="1047.0,816.0 1055.7,831.0 1038.3,831.0" fill="none" stroke="#dd0000" stroke-width="2.6" stroke-linejoin="miter"/>
<polygon points="1047.0,835.0 1055.7,820.0 1038.3,820.0" fill="none" stroke="#00cc00" stroke-width="2.6" stroke-linejoin="miter"/>
<polygon points="1057.0,820.0 1042.0,811.3 1042.0,828.7" fill="none" stroke="#00f0ff" stroke-width="2.6" stroke-linejoin="miter"/>
<polygon points="1037.0,824.0 1052.0,815.3 1052.0,832.7" fill="none" stroke="#2828ff" stroke-width="2.6" stroke-linejoin="miter"/>
<polygon points="1047.0,812.6 1057.4,823.0 1047.0,833.4 1036.6,823.0" fill="none" stroke="#ff00ff" stroke-width="2.4" stroke-linejoin="miter"/>
<circle cx="1047.0" cy="823.2" r="11.1" fill="none" stroke="#ff0070" stroke-width="3.3"/>
<rect x="1116.5" y="830.3" width="16.0" height="16.0" fill="none" stroke="#8000ff" stroke-width="2.6"/>
<polygon points="1124.5,828.3 1133.2,843.3 1115.8,843.3" fill="none" stroke="#dd0000" stroke-width="2.6" stroke-linejoin="miter"/>
<polygon points="1124.5,848.3 1133.2,833.3 1115.8,833.3" fill="none" stroke="#00cc00" stroke-width="2.6" stroke-linejoin="miter"/>
<polygon points="1134.5,838.3 1119.5,829.6 1119.5,847.0" fill="none" stroke="#00f0ff" stroke-width="2.6" stroke-linejoin="miter"/>
<polygon points="1114.5,838.3 1129.5,829.6 1129.5,847.0" fill="none" stroke="#2828ff" stroke-width="2.6" stroke-linejoin="miter"/>
<polygon points="1124.5,827.9 1134.9,838.3 1124.5,848.7 1114.1,838.3" fill="none" stroke="#ff00ff" stroke-width="2.4" stroke-linejoin="miter"/>
<circle cx="1124.5" cy="838.3" r="11.1" fill="none" stroke="#ff0070" stroke-width="3.3"/>
<path d="M194.5,780.5 C198.2,775.6 210.1,760.4 217.0,751.0 C223.9,741.6 230.1,733.0 236.0,724.0 C241.9,715.0 247.6,705.8 252.5,697.0 C257.4,688.2 261.0,681.2 265.5,671.5 C270.0,661.8 274.8,650.2 279.5,639.0 C284.2,627.8 288.9,615.3 293.5,604.0 C298.1,592.7 302.5,581.2 307.0,571.0 C311.5,560.8 315.7,554.1 320.5,543.0 C325.3,531.9 331.2,515.6 336.0,504.4 C340.8,493.1 344.8,484.7 349.5,475.5 C354.2,466.3 358.9,457.5 364.0,449.0 C369.1,440.5 373.9,433.2 380.0,424.5 C386.1,415.8 392.8,405.8 400.5,396.5 C408.2,387.2 417.9,378.0 426.3,368.9 C434.7,359.8 442.2,351.1 450.7,342.0 C459.2,332.9 468.5,323.3 477.5,314.5 C486.5,305.7 497.5,295.4 504.6,289.3 C511.7,283.2 514.1,281.7 520.0,277.8 C525.9,273.9 533.1,269.8 540.0,266.2 C546.9,262.6 554.6,258.8 561.6,256.2 C568.6,253.6 575.3,252.2 581.7,250.8 C588.1,249.4 595.1,248.3 600.2,247.7 C605.3,247.1 607.9,246.9 612.5,247.0 C617.1,247.1 622.8,247.2 627.9,248.0 C633.0,248.8 638.2,250.1 643.3,251.6 C648.4,253.1 653.6,254.6 658.7,257.0 C663.8,259.4 668.9,262.4 674.1,266.2 C679.3,270.0 683.3,272.9 690.0,279.6 C696.7,286.3 706.2,297.6 714.1,306.2 C722.0,314.8 729.5,321.5 737.5,331.5 C745.5,341.5 754.1,354.3 762.3,366.4 C770.4,378.4 777.8,389.9 786.4,403.8 C795.0,417.7 806.6,437.0 814.2,449.6 C821.8,462.2 827.2,471.3 832.2,479.7 C837.2,488.1 838.9,489.9 844.3,500.0 C849.7,510.1 856.5,525.1 864.5,540.0 C872.5,554.9 882.6,572.1 892.2,589.4 C901.8,606.7 913.3,627.4 922.3,643.7 C931.3,660.0 938.5,673.2 946.4,687.1 C954.3,701.0 963.4,715.9 969.8,726.8 C976.2,737.6 980.0,744.0 985.0,752.2 C990.0,760.4 995.0,768.7 1000.0,776.0 C1005.0,783.3 1010.2,790.2 1014.7,795.8 C1019.2,801.3 1022.9,805.2 1027.0,809.3 C1031.1,813.4 1036.0,817.6 1039.3,820.4 C1042.6,823.2 1043.7,824.0 1047.0,826.0 C1050.3,828.0 1055.2,831.0 1059.0,832.7 C1062.8,834.4 1066.9,835.4 1070.1,836.4 C1073.3,837.4 1076.7,838.2 1078.0,838.6" fill="none" stroke="#000" stroke-width="3.1"/>
<line x1="194.5" x2="194.5" y1="359.7" y2="413.7" stroke="#000" stroke-width="4"/>
<line x1="178.0" x2="211.0" y1="359.7" y2="359.7" stroke="#000" stroke-width="4"/>
<line x1="178.0" x2="211.0" y1="413.7" y2="413.7" stroke="#000" stroke-width="4"/>
<line x1="272.0" x2="272.0" y1="299.0" y2="359.7" stroke="#000" stroke-width="4"/>
<line x1="255.5" x2="288.5" y1="299.0" y2="299.0" stroke="#000" stroke-width="4"/>
<line x1="255.5" x2="288.5" y1="359.7" y2="359.7" stroke="#000" stroke-width="4"/>
<line x1="349.5" x2="349.5" y1="235.3" y2="303.6" stroke="#000" stroke-width="4"/>
<line x1="333.0" x2="366.0" y1="235.3" y2="235.3" stroke="#000" stroke-width="4"/>
<line x1="333.0" x2="366.0" y1="303.6" y2="303.6" stroke="#000" stroke-width="4"/>
<line x1="427.0" x2="427.0" y1="169.2" y2="244.7" stroke="#000" stroke-width="4"/>
<line x1="410.5" x2="443.5" y1="169.2" y2="169.2" stroke="#000" stroke-width="4"/>
<line x1="410.5" x2="443.5" y1="244.7" y2="244.7" stroke="#000" stroke-width="4"/>
<line x1="504.5" x2="504.5" y1="126.0" y2="206.2" stroke="#000" stroke-width="4"/>
<line x1="488.0" x2="521.0" y1="126.0" y2="126.0" stroke="#000" stroke-width="4"/>
<line x1="488.0" x2="521.0" y1="206.2" y2="206.2" stroke="#000" stroke-width="4"/>
<line x1="582.0" x2="582.0" y1="87.7" y2="172.6" stroke="#000" stroke-width="4"/>
<line x1="565.5" x2="598.5" y1="87.7" y2="87.7" stroke="#000" stroke-width="4"/>
<line x1="565.5" x2="598.5" y1="172.6" y2="172.6" stroke="#000" stroke-width="4"/>
<line x1="659.5" x2="659.5" y1="56.8" y2="144.9" stroke="#000" stroke-width="4"/>
<line x1="643.0" x2="676.0" y1="56.8" y2="56.8" stroke="#000" stroke-width="4"/>
<line x1="643.0" x2="676.0" y1="144.9" y2="144.9" stroke="#000" stroke-width="4"/>
<line x1="737.0" x2="737.0" y1="32.6" y2="122.6" stroke="#000" stroke-width="4"/>
<line x1="720.5" x2="753.5" y1="32.6" y2="32.6" stroke="#000" stroke-width="4"/>
<line x1="720.5" x2="753.5" y1="122.6" y2="122.6" stroke="#000" stroke-width="4"/>
<line x1="814.5" x2="814.5" y1="38.3" y2="128.5" stroke="#000" stroke-width="4"/>
<line x1="798.0" x2="831.0" y1="38.3" y2="38.3" stroke="#000" stroke-width="4"/>
<line x1="798.0" x2="831.0" y1="128.5" y2="128.5" stroke="#000" stroke-width="4"/>
<line x1="892.0" x2="892.0" y1="61.1" y2="148.3" stroke="#000" stroke-width="4"/>
<line x1="875.5" x2="908.5" y1="61.1" y2="61.1" stroke="#000" stroke-width="4"/>
<line x1="875.5" x2="908.5" y1="148.3" y2="148.3" stroke="#000" stroke-width="4"/>
<line x1="969.5" x2="969.5" y1="92.1" y2="175.7" stroke="#000" stroke-width="4"/>
<line x1="953.0" x2="986.0" y1="92.1" y2="92.1" stroke="#000" stroke-width="4"/>
<line x1="953.0" x2="986.0" y1="175.7" y2="175.7" stroke="#000" stroke-width="4"/>
<line x1="1047.0" x2="1047.0" y1="133.0" y2="212.3" stroke="#000" stroke-width="4"/>
<line x1="1030.5" x2="1063.5" y1="133.0" y2="133.0" stroke="#000" stroke-width="4"/>
<line x1="1030.5" x2="1063.5" y1="212.3" y2="212.3" stroke="#000" stroke-width="4"/>
<line x1="1124.5" x2="1124.5" y1="183.2" y2="258.1" stroke="#000" stroke-width="4"/>
<line x1="1108.0" x2="1141.0" y1="183.2" y2="183.2" stroke="#000" stroke-width="4"/>
<line x1="1108.0" x2="1141.0" y1="258.1" y2="258.1" stroke="#000" stroke-width="4"/>
<line x1="194.5" x2="194.5" y1="776.8" y2="786.7" stroke="#000" stroke-width="4"/>
<line x1="178.0" x2="211.0" y1="776.8" y2="776.8" stroke="#000" stroke-width="4"/>
<line x1="178.0" x2="211.0" y1="786.7" y2="786.7" stroke="#000" stroke-width="4"/>
<line x1="272.0" x2="272.0" y1="647.9" y2="676.6" stroke="#000" stroke-width="4"/>
<line x1="255.5" x2="288.5" y1="647.9" y2="647.9" stroke="#000" stroke-width="4"/>
<line x1="255.5" x2="288.5" y1="676.6" y2="676.6" stroke="#000" stroke-width="4"/>
<line x1="349.5" x2="349.5" y1="446.5" y2="504.4" stroke="#000" stroke-width="4"/>
<line x1="333.0" x2="366.0" y1="446.5" y2="446.5" stroke="#000" stroke-width="4"/>
<line x1="333.0" x2="366.0" y1="504.4" y2="504.4" stroke="#000" stroke-width="4"/>
<line x1="427.0" x2="427.0" y1="329.6" y2="405.6" stroke="#000" stroke-width="4"/>
<line x1="410.5" x2="443.5" y1="329.6" y2="329.6" stroke="#000" stroke-width="4"/>
<line x1="410.5" x2="443.5" y1="405.6" y2="405.6" stroke="#000" stroke-width="4"/>
<line x1="504.5" x2="504.5" y1="245.5" y2="333.4" stroke="#000" stroke-width="4"/>
<line x1="488.0" x2="521.0" y1="245.5" y2="245.5" stroke="#000" stroke-width="4"/>
<line x1="488.0" x2="521.0" y1="333.4" y2="333.4" stroke="#000" stroke-width="4"/>
<line x1="582.0" x2="582.0" y1="204.5" y2="297.9" stroke="#000" stroke-width="4"/>
<line x1="565.5" x2="598.5" y1="204.5" y2="204.5" stroke="#000" stroke-width="4"/>
<line x1="565.5" x2="598.5" y1="297.9" y2="297.9" stroke="#000" stroke-width="4"/>
<line x1="659.5" x2="659.5" y1="212.0" y2="304.5" stroke="#000" stroke-width="4"/>
<line x1="643.0" x2="676.0" y1="212.0" y2="212.0" stroke="#000" stroke-width="4"/>
<line x1="643.0" x2="676.0" y1="304.5" y2="304.5" stroke="#000" stroke-width="4"/>
<line x1="737.0" x2="737.0" y1="292.4" y2="372.9" stroke="#000" stroke-width="4"/>
<line x1="720.5" x2="753.5" y1="292.4" y2="292.4" stroke="#000" stroke-width="4"/>
<line x1="720.5" x2="753.5" y1="372.9" y2="372.9" stroke="#000" stroke-width="4"/>
<line x1="814.5" x2="814.5" y1="417.0" y2="479.3" stroke="#000" stroke-width="4"/>
<line x1="798.0" x2="831.0" y1="417.0" y2="417.0" stroke="#000" stroke-width="4"/>
<line x1="798.0" x2="831.0" y1="479.3" y2="479.3" stroke="#000" stroke-width="4"/>
<line x1="892.0" x2="892.0" y1="568.9" y2="609.2" stroke="#000" stroke-width="4"/>
<line x1="875.5" x2="908.5" y1="568.9" y2="568.9" stroke="#000" stroke-width="4"/>
<line x1="875.5" x2="908.5" y1="609.2" y2="609.2" stroke="#000" stroke-width="4"/>
<line x1="969.5" x2="969.5" y1="718.9" y2="736.5" stroke="#000" stroke-width="4"/>
<line x1="953.0" x2="986.0" y1="718.9" y2="718.9" stroke="#000" stroke-width="4"/>
<line x1="953.0" x2="986.0" y1="736.5" y2="736.5" stroke="#000" stroke-width="4"/>
<line x1="1047.0" x2="1047.0" y1="825.0" y2="827.0" stroke="#000" stroke-width="4"/>
<line x1="1030.5" x2="1063.5" y1="825.0" y2="825.0" stroke="#000" stroke-width="4"/>
<line x1="1030.5" x2="1063.5" y1="827.0" y2="827.0" stroke="#000" stroke-width="4"/>
<polyline points="156.4,839.7 156.4,6 1161,6" fill="none" stroke="#000" stroke-width="4.1" stroke-linejoin="miter"/>
<line x1="154.2" x2="1161" y1="837.8" y2="837.8" stroke="#000" stroke-width="3.8"/>
<line x1="1162.9" x2="1162.9" y1="5" y2="839.7" stroke="#ff0a80" stroke-width="4.6"/>
<rect x="523.1" y="459.1" width="16.0" height="16.0" fill="none" stroke="#8000ff" stroke-width="2.6"/>
<polygon points="531.1,509.1 539.8,524.1 522.4,524.1" fill="none" stroke="#dd0000" stroke-width="2.6" stroke-linejoin="miter"/>
<polygon points="531.1,581.1 539.8,566.1 522.4,566.1" fill="none" stroke="#00cc00" stroke-width="2.6" stroke-linejoin="miter"/>
<polygon points="541.1,623.1 526.1,614.4 526.1,631.8" fill="none" stroke="#00f0ff" stroke-width="2.6" stroke-linejoin="miter"/>
<polygon points="521.1,675.1 536.1,666.4 536.1,683.8" fill="none" stroke="#2828ff" stroke-width="2.6" stroke-linejoin="miter"/>
<polygon points="531.1,716.7 541.5,727.1 531.1,737.5 520.7,727.1" fill="none" stroke="#ff00ff" stroke-width="2.4" stroke-linejoin="miter"/>
<circle cx="531.1" cy="779.1" r="11.1" fill="none" stroke="#ff0070" stroke-width="3.3"/>
</svg>
<div class="t yl" style="top:822px">0</div>
<div class="t yl" style="top:688px">200</div>
<div class="t yl" style="top:554px">400</div>
<div class="t yl" style="top:420px">600</div>
<div class="t yl" style="top:286px">800</div>
<div class="t yl" style="top:151px">1000</div>
<div class="t yl" style="top:17px">1200</div>
<div class="t yr" style="top:821.3px">0</div>
<div class="t yr" style="top:724.7px">5</div>
<div class="t yr" style="top:628.0px">10</div>
<div class="t yr" style="top:531.4px">15</div>
<div class="t yr" style="top:434.7px">20</div>
<div class="t yr" style="top:338.1px">25</div>
<div class="t yr" style="top:241.4px">30</div>
<div class="t yr" style="top:144.8px">35</div>
<div class="t yr" style="top:48.1px">40</div>
<div class="t xl" style="left:134.9px">7.00</div>
<div class="t xl" style="left:289.9px">9.00</div>
<div class="t xl" style="left:444.9px">11.00</div>
<div class="t xl" style="left:599.9px">13.00</div>
<div class="t xl" style="left:754.9px">15.00</div>
<div class="t xl" style="left:909.9px">17.00</div>
<div class="t xl" style="left:1064.9px">19.00</div>
<div class="t lg" style="top:448.4px">C-A1</div>
<div class="t lg" style="top:500.4px">C-A2</div>
<div class="t lg" style="top:552.9px">C-A3</div>
<div class="t lg" style="top:604.7px">C-A4</div>
<div class="t lg" style="top:656.4px">C-A5</div>
<div class="t lg" style="top:708.4px">C-A6</div>
<div class="t lg" style="top:760.0px">C-A7</div>
<div class="t" style="left:191px;top:38.5px;font-size:34.3px">Variation = <span style="font-family:'Liberation Serif',serif;font-weight:normal;font-size:35px;margin-left:-1px;margin-right:-3px">±</span> 4%</div>
<div class="t" id="xt" style="left:557.5px;top:913px;font-size:35.4px">Time, (hour)</div>
<div class="t" id="ylab" style="left:24.5px;top:423px;font-size:35.2px;transform:translate(-50%,-50%) rotate(-90deg);">Solar Radiation Intensity, (W/m<span style="font-size:22px;position:relative;top:-18px">2</span>)</div>
<div class="t" id="yrlab" style="left:1275.4px;top:422px;font-size:35.3px;color:#ff0a80;transform:translate(-50%,-50%) rotate(-90deg);">Ambient Temperature, (<span style="font-size:23px;position:relative;top:-18.5px">o</span>C)</div>
</body></html>
